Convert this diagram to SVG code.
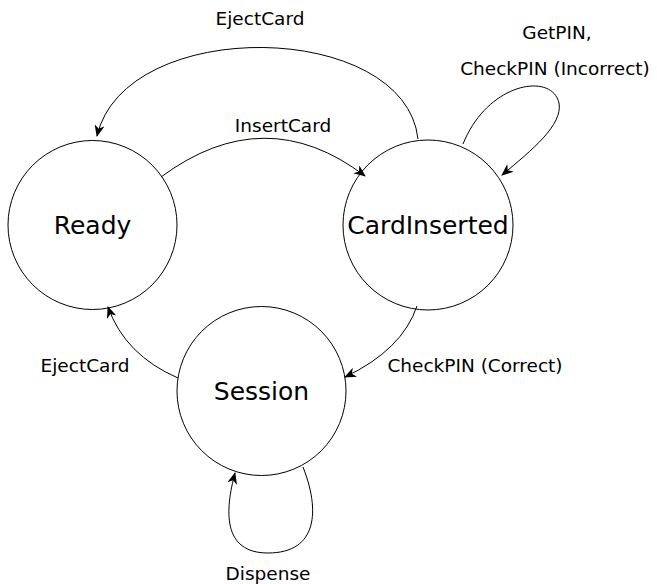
<svg xmlns="http://www.w3.org/2000/svg" width="657" height="584" viewBox="0 0 657 584">
  <style>
    .state circle { fill: #fff; stroke: #000; stroke-width: 1; }
    .state text { font-family: "DejaVu Sans", "Liberation Sans", sans-serif; font-size: 25px; text-anchor: middle; fill: #000; }
    .edges path { fill: none; stroke: #000; stroke-width: 1; marker-end: url(#arrow); }
    .edges text { font-family: "DejaVu Sans", "Liberation Sans", sans-serif; font-size: 18.5px; text-anchor: middle; fill: #000; }
  </style>
  <defs>
    <marker id="arrow" viewBox="0 0 12 10" refX="11" refY="5" markerWidth="12" markerHeight="10" markerUnits="userSpaceOnUse" orient="auto">
      <path d="M0,0 L12,5 L0,10 L3.5,5 z" fill="#000"/>
    </marker>
  </defs>
  <rect width="657" height="584" fill="#fff"/>

  <!-- states -->
  <g id="ready" class="state">
    <circle cx="92.5" cy="225" r="84.5"/>
    <text x="92.5" y="234">Ready</text>
  </g>
  <g id="cardinserted" class="state">
    <circle cx="428" cy="225" r="85"/>
    <text x="428" y="234">CardInserted</text>
  </g>
  <g id="session" class="state">
    <circle cx="261.5" cy="391" r="84.5"/>
    <text x="261.5" y="400">Session</text>
  </g>

  <!-- transitions -->
  <g id="edges" class="edges">
    <path d="M418,139 C405,20 125,15 97,136"/>
    <text x="260" y="25">EjectCard</text>

    <path d="M161,177 Q265,100 365,176"/>
    <text x="283" y="132">InsertCard</text>

    <path d="M463,144 C488,82 552,72 559,103 C563,125 532,150 502,175"/>
    <text x="557" y="39">GetPIN,</text>
    <text x="555" y="75">CheckPIN (Incorrect)</text>

    <path d="M417,306 Q402,350 345,377"/>
    <text x="475" y="372">CheckPIN (Correct)</text>

    <path d="M178,378 Q125,355 108,307"/>
    <text x="85" y="372">EjectCard</text>

    <path d="M303,467 C320,510 318,553 268,553 C222,553 225,510 235,473"/>
    <text x="268" y="580">Dispense</text>
  </g>
</svg>
